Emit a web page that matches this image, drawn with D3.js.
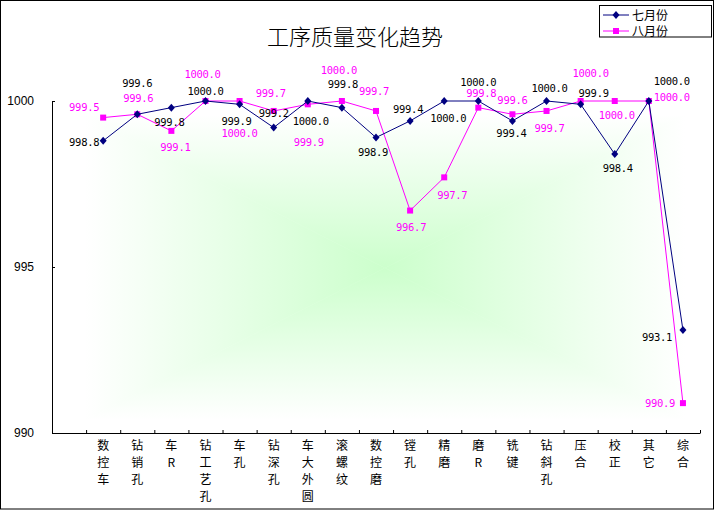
<!DOCTYPE html>
<html lang="zh">
<head>
  <meta charset="UTF-8">
  <title>工序质量变化趋势</title>
  <script src="https://d3js.org/d3.v7.min.js"></script>
  <style>
    body {
      margin: 0;
      background: #fff;
    }
    svg {
      display: block;
    }
    .cn {
      font-family: "Noto Sans CJK SC", sans-serif;
    }
    .title {
      font-weight: 300;
    }
    .val {
      font-family: "DejaVu Sans Mono", monospace;
      font-size: 10.5px;
      letter-spacing: -0.3px;
    }
    .y-axis text {
      font-family: "Liberation Sans", Arial, sans-serif;
      font-size: 12px;
      fill: #000;
    }
  </style>
</head>
<body>

<svg width="715" height="510"></svg>

<script>
const categories = ["数控车", "钻销孔", "车R", "钻工艺孔", "车孔", "钻深孔", "车大外圆", "滚螺纹", "数控磨",
                    "镗孔", "精磨", "磨R", "铣键", "钻斜孔", "压合", "校正", "其它", "综合"];
const july   = [998.8, 999.6, 999.8, 1000.0, 999.9, 999.2, 1000.0, 999.8, 998.9,
                999.4, 1000.0, 1000.0, 999.4, 1000.0, 999.9, 998.4, 1000.0, 993.1];
const august = [999.5, 999.6, 999.1, 1000.0, 1000.0, 999.7, 999.9, 1000.0, 999.7,
                996.7, 997.7, 999.8, 999.6, 999.7, 1000.0, 1000.0, 1000.0, 990.9];
const yTicks = [990, 995, 1000];
const seriesNames = ["七月份", "八月份"];

// where each value label sits relative to its point (label centre offset, px)
const julyLabelOff = [[-19, 1], [0, -31], [-2, 15], [0, -10], [-3, 17], [0, -14], [3, 20], [1, -23], [-3, 15],
                      [-2, -12], [4, 17], [0, -19], [-1, 12], [3, -13], [13, -11], [3, 14], [23, -20], [-26, 7]];
const augLabelOff  = [[-19, -10], [1, -16], [4, 16], [-3, -27], [0, 32], [-3, -18], [1, 38], [-3, -31], [-2, -20],
                      [1, 17], [8, 18], [3, -14], [0, -14], [3, 17], [10, -28], [2, 14], [23, -4], [-23, 0]];

const svg = d3.select("svg");
const plot = {left: 52, right: 700, top: 101, bottom: 433};

// the source chart has an empty first category slot
const x = d3.scaleBand().domain(["", ...categories]).range([plot.left, plot.right]).padding(0);
const y = d3.scaleLinear().domain([990, 1000]).range([plot.bottom, plot.top]);
const cx = d => x(d) + x.bandwidth() / 2;

// outer frame
svg.append("rect")
  .attr("x", 0.5).attr("y", 0.5)
  .attr("width", 713).attr("height", 508.5)
  .attr("fill", "#fff")
  .attr("stroke", "#000");

// rectangular "from centre" green fill, built from four triangles
const grad = {x0: 85, x1: 685, y0: 115, y1: 420, cx: 385, cy: 268};
const defs = svg.append("defs");
const sides = [
  {id: "gT", pts: [[grad.x0, grad.y0], [grad.x1, grad.y0]], from: [grad.cx, grad.cy], to: [grad.cx, grad.y0]},
  {id: "gB", pts: [[grad.x0, grad.y1], [grad.x1, grad.y1]], from: [grad.cx, grad.cy], to: [grad.cx, grad.y1]},
  {id: "gL", pts: [[grad.x0, grad.y0], [grad.x0, grad.y1]], from: [grad.cx, grad.cy], to: [grad.x0, grad.cy]},
  {id: "gR", pts: [[grad.x1, grad.y0], [grad.x1, grad.y1]], from: [grad.cx, grad.cy], to: [grad.x1, grad.cy]}
];
sides.forEach(s => {
  const lg = defs.append("linearGradient")
    .attr("id", s.id)
    .attr("gradientUnits", "userSpaceOnUse")
    .attr("x1", s.from[0]).attr("y1", s.from[1])
    .attr("x2", s.to[0]).attr("y2", s.to[1]);
  lg.append("stop").attr("offset", 0).attr("stop-color", "#ccffcc");
  lg.append("stop").attr("offset", 1).attr("stop-color", "#ffffff");
  svg.append("polygon")
    .attr("points", [[grad.cx, grad.cy], ...s.pts].map(p => p.join(",")).join(" "))
    .attr("fill", `url(#${s.id})`)
    .attr("stroke", `url(#${s.id})`)
    .attr("stroke-width", 0.6);
});

// axes
const yAxis = svg.append("g")
  .attr("class", "y-axis")
  .attr("transform", `translate(${plot.left},0)`)
  .call(d3.axisLeft(y).tickValues(yTicks).tickSize(-3).tickSizeOuter(0).tickPadding(18).tickFormat(d3.format("d")));
yAxis.select(".domain").attr("stroke", "#000");

const xt = d3.scaleLinear().domain([0, categories.length + 1]).range([plot.left, plot.right]);
const xAxis = svg.append("g")
  .attr("transform", `translate(0,${plot.bottom})`)
  .call(d3.axisBottom(xt).tickValues(d3.range(1, categories.length + 2)).tickSize(-3).tickSizeOuter(0).tickFormat(""));
xAxis.select(".domain").attr("stroke", "#000");

// vertical category labels
const catLabels = svg.append("g").attr("class", "cn").attr("font-size", 12).attr("text-anchor", "middle");
categories.forEach(c => {
  const t = catLabels.append("text").attr("x", cx(c)).attr("y", 449.5);
  Array.from(c).forEach((ch, i) => {
    t.append("tspan").attr("x", cx(c)).attr("dy", i === 0 ? 0 : 17.3).text(ch);
  });
});

// title
svg.append("text")
  .attr("class", "cn title")
  .attr("x", 355).attr("y", 45)
  .attr("text-anchor", "middle")
  .attr("font-size", 22)
  .text("工序质量变化趋势");

// series
const line = d3.line()
  .x((d, i) => cx(categories[i]))
  .y(d => y(d));

const diamond = "M0,-4L3.5,0L0,4L-3.5,0Z";

function drawSeries(values, color, marker) {
  svg.append("path")
    .datum(values)
    .attr("fill", "none")
    .attr("stroke", color)
    .attr("stroke-width", 1)
    .attr("d", line);

  values.forEach((v, i) => {
    const px = cx(categories[i]), py = y(v);
    if (marker === "diamond") {
      svg.append("path").attr("d", diamond)
        .attr("transform", `translate(${px},${py})`)
        .attr("fill", color);
    } else {
      svg.append("rect")
        .attr("x", px - 3).attr("y", py - 3)
        .attr("width", 6).attr("height", 6)
        .attr("fill", color);
    }
  });
}

function drawLabels(values, color, offsets) {
  values.forEach((v, i) => {
    const px = cx(categories[i]), py = y(v);
    svg.append("text")
      .attr("class", "val")
      .attr("x", px + offsets[i][0])
      .attr("y", py + offsets[i][1] + 3.8)
      .attr("text-anchor", "middle")
      .attr("fill", color)
      .text(v.toFixed(1));
  });
}

drawSeries(august, "#ff00ff", "square");
drawSeries(july, "#000080", "diamond");
drawLabels(august, "#ff00ff", augLabelOff);
drawLabels(july, "#000000", julyLabelOff);

// legend
const legend = svg.append("g");
legend.append("rect")
  .attr("x", 599.5).attr("y", 5.5)
  .attr("width", 112).attr("height", 31.5)
  .attr("fill", "#fff")
  .attr("stroke", "#000");

const legendColors = ["#000080", "#ff00ff"];
seriesNames.forEach((name, i) => {
  const ly = 15 + i * 16;
  legend.append("line")
    .attr("x1", 603).attr("x2", 629)
    .attr("y1", ly).attr("y2", ly)
    .attr("stroke", legendColors[i]);
  if (i === 0) {
    legend.append("path").attr("d", diamond)
      .attr("transform", `translate(616,${ly})`)
      .attr("fill", legendColors[i]);
  } else {
    legend.append("rect")
      .attr("x", 613).attr("y", ly - 3)
      .attr("width", 6).attr("height", 6)
      .attr("fill", legendColors[i]);
  }
  legend.append("text")
    .attr("class", "cn")
    .attr("x", 632).attr("y", ly + 4.5)
    .attr("font-size", 12)
    .text(name);
});
</script>
</body>
</html>
